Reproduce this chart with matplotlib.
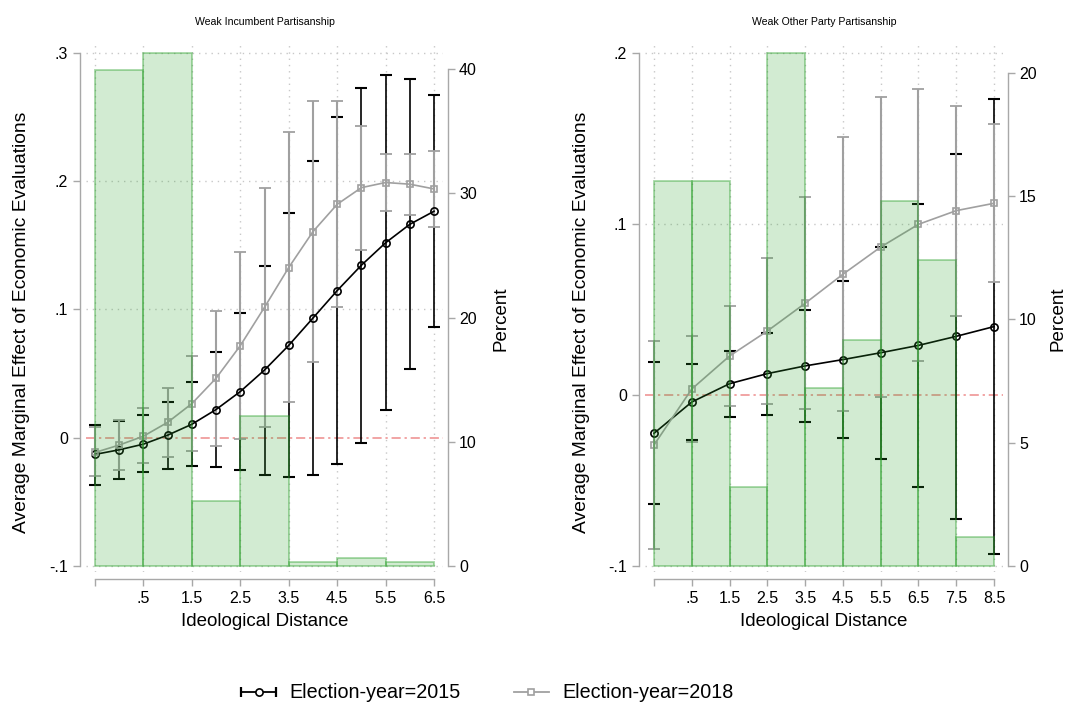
import matplotlib
matplotlib.use("Agg")
import matplotlib.pyplot as plt
from matplotlib.lines import Line2D
from matplotlib.legend_handler import HandlerBase

plt.rcParams['font.family'] = ['Liberation Sans', 'DejaVu Sans']

# ---------------- data ----------------
left_title = "Weak Incumbent Partisanship"
right_title = "Weak Other Party Partisanship"
x_label = "Ideological Distance"
y_label = "Average Marginal Effect of Economic Evaluations"
y2_label = "Percent"
series_names = ["Election-year=2015", "Election-year=2018"]

left_x = [-0.5, 0.0, 0.5, 1.0, 1.5, 2.0, 2.5, 3.0, 3.5, 4.0, 4.5, 5.0, 5.5, 6.0, 6.5]
left_2015 = [-0.013, -0.0094, -0.005, 0.002, 0.0105, 0.022, 0.036, 0.0528, 0.072, 0.0933,
             0.1147, 0.1345, 0.152, 0.1664, 0.1766]
left_2015_lo = [-0.0367, -0.032, -0.027, -0.024, -0.0224, -0.0229, -0.0252, -0.0287, -0.0307,
                -0.029, -0.0206, -0.0039, 0.0216, 0.0534, 0.0862]
left_2015_hi = [0.0099, 0.013, 0.018, 0.0279, 0.0437, 0.0667, 0.097, 0.1338, 0.175, 0.2154,
                0.25, 0.273, 0.283, 0.2794, 0.267]
left_2018 = [-0.0115, -0.0057, 0.0012, 0.012, 0.0266, 0.0464, 0.0718, 0.1017, 0.1327, 0.1607,
             0.182, 0.195, 0.199, 0.1977, 0.194]
left_2018_lo = [-0.030, -0.025, -0.0195, -0.0154, -0.0107, -0.0063, -0.001, 0.0086, 0.0276,
                0.0588, 0.1018, 0.146, 0.1766, 0.174, 0.1643]
left_2018_hi = [0.008, 0.0136, 0.0229, 0.039, 0.064, 0.0992, 0.1445, 0.1945, 0.238, 0.2625,
                0.2625, 0.243, 0.2213, 0.2213, 0.2237]
left_bin_edges = [-0.5, 0.5, 1.5, 2.5, 3.5, 4.5, 5.5, 6.5]
left_pct = [39.9, 41.3, 5.2, 12.1, 0.3, 0.67, 0.3]
left_xticks = [-0.5, 0.5, 1.5, 2.5, 3.5, 4.5, 5.5, 6.5]
left_xticklabels = ["", ".5", "1.5", "2.5", "3.5", "4.5", "5.5", "6.5"]
left_yticks = [-0.1, 0.0, 0.1, 0.2, 0.3]
left_yticklabels = ["-.1", "0", ".1", ".2", ".3"]
left_y2ticks = [0, 10, 20, 30, 40]

right_x = [-0.5, 0.5, 1.5, 2.5, 3.5, 4.5, 5.5, 6.5, 7.5, 8.5]
right_2015 = [-0.0224, -0.0041, 0.0066, 0.0125, 0.017, 0.0207, 0.0247, 0.029, 0.0343, 0.040]
right_2015_lo = [-0.0639, -0.0265, -0.013, -0.0115, -0.016, -0.025, -0.0374, -0.0536, -0.0723, -0.093]
right_2015_hi = [0.0191, 0.0183, 0.0259, 0.0365, 0.0497, 0.0665, 0.0868, 0.1117, 0.1409, 0.1729]
right_2018 = [-0.0292, 0.0035, 0.0228, 0.0374, 0.0536, 0.0706, 0.0865, 0.0998, 0.1078, 0.1121]
right_2018_lo = [-0.0902, -0.0273, -0.0066, -0.0051, -0.0084, -0.0094, -0.001, 0.0201, 0.0464, 0.0659]
right_2018_hi = [0.0318, 0.0347, 0.0522, 0.0799, 0.1158, 0.1507, 0.1741, 0.1788, 0.1692, 0.1583]
right_bin_edges = [-0.5, 0.5, 1.5, 2.5, 3.5, 4.5, 5.5, 6.5, 7.5, 8.5]
right_pct = [15.6, 15.6, 3.19, 20.8, 7.2, 9.18, 14.78, 12.4, 1.18]
right_xticks = [-0.5, 0.5, 1.5, 2.5, 3.5, 4.5, 5.5, 6.5, 7.5, 8.5]
right_xticklabels = ["", ".5", "1.5", "2.5", "3.5", "4.5", "5.5", "6.5", "7.5", "8.5"]
right_yticks = [-0.1, 0.0, 0.1, 0.2]
right_yticklabels = ["-.1", "0", ".1", ".2"]
right_y2ticks = [0, 5, 10, 15, 20]

# ---------------- style ----------------
W, H = 1066, 709
C15 = "black"
C18 = "#a0a0a0"
AXC = "#a8a8a8"
GRID = "#c8c8c8"
BAR_FACE = (0.17, 0.63, 0.17, 0.21)
BAR_EDGE = (0.17, 0.63, 0.17, 0.42)
REF = "#ee8c8c"
TICK_FS = 11.5
LAB_FS = 13.5

fig = plt.figure(figsize=(W / 100, H / 100), dpi=100)


def px_axes(x0, x1, y0, y1):
    return fig.add_axes([x0 / W, 1 - y1 / H, (x1 - x0) / W, (y1 - y0) / H])


def panel(x0, x1, xs, s15, lo15, hi15, s18, lo18, hi18, edges, pct,
          xticks, xticklabels, yticks, yticklabels, y2ticks, title, cx):
    ax = px_axes(x0, x1, 42, 572)
    xr = xticks[-1] - xticks[0]
    ax.set_xlim(xticks[0] - 0.0265 * xr, xticks[-1] + 0.0265 * xr)
    yr = yticks[-1] - yticks[0]
    ylo, yhi = yticks[0] - 0.0117 * yr, yticks[-1] + 0.0214 * yr
    ax.set_ylim(ylo, yhi)

    # grid
    for yt in yticks:
        if yt != 0:
            ax.axhline(yt, color=GRID, lw=1.0, ls=(0, (1, 3.5)), zorder=0)
    for xt in xticks:
        ax.axvline(xt, color=GRID, lw=1.0, ls=(0, (1, 3.5)), zorder=0)
    ax.axhline(0, color=REF, lw=1.1, ls=(0, (6, 2.5, 1.5, 2.5)), zorder=1)

    # CIs
    ax.errorbar(xs, s15, yerr=[[a - b for a, b in zip(s15, lo15)], [b - a for a, b in zip(s15, hi15)]],
                fmt="none", ecolor=C15, elinewidth=1.2, capsize=4.2, capthick=1.5, zorder=2)
    ax.errorbar(xs, s18, yerr=[[a - b for a, b in zip(s18, lo18)], [b - a for a, b in zip(s18, hi18)]],
                fmt="none", ecolor=C18, elinewidth=1.5, capsize=4.2, capthick=1.3, zorder=3)
    ax.plot(xs, s15, color=C15, lw=1.2, marker="o", ms=5.2, mfc="none", mec=C15, mew=1.2, zorder=4)
    ax.plot(xs, s18, color=C18, lw=1.2, marker="s", ms=4.6, mfc="none", mec=C18, mew=1.2, zorder=5)

    ax.set_xticks(xticks)
    ax.set_xticklabels(xticklabels)
    ax.set_yticks(yticks)
    ax.set_yticklabels(yticklabels)
    for s in ["top", "right"]:
        ax.spines[s].set_visible(False)
    ax.spines["left"].set_position(("outward", 4.3))
    ax.spines["left"].set_bounds(yticks[0], yticks[-1])
    ax.spines["bottom"].set_position(("outward", 5))
    ax.spines["bottom"].set_bounds(xticks[0], xticks[-1])
    for s in ["left", "bottom"]:
        ax.spines[s].set_color(AXC)
        ax.spines[s].set_linewidth(1.0)
    ax.tick_params(axis="both", direction="out", length=5, width=1.0, color=AXC,
                   labelsize=TICK_FS, pad=3.5)
    ax.patch.set_alpha(0)

    # histogram on secondary axis
    ax2 = ax.twinx()
    pmax = max(pct)
    scale = pmax / (yticks[-1] - yticks[0])
    ax2.set_ylim((ylo - yticks[0]) * scale, (yhi - yticks[0]) * scale)
    widths = [b - a for a, b in zip(edges[:-1], edges[1:])]
    ax2.bar(edges[:-1], pct, width=widths, align="edge", color=BAR_FACE,
            edgecolor=BAR_EDGE, linewidth=1.3, zorder=6)
    ax2.set_yticks(y2ticks)
    for s in ["top", "left", "bottom"]:
        ax2.spines[s].set_visible(False)
    ax2.spines["right"].set_position(("outward", 3.6))
    ax2.spines["right"].set_bounds(y2ticks[0], y2ticks[-1])
    ax2.spines["right"].set_color(AXC)
    ax2.spines["right"].set_linewidth(1.0)
    ax2.tick_params(axis="y", direction="out", length=5, width=1.0, color=AXC,
                    labelsize=TICK_FS, pad=3)

    fig.text(cx / W, 1 - 22 / H, title, ha="center", va="center", fontsize=7.6)
    fig.text(cx / W, 1 - 622 / H, x_label, ha="center", va="center", fontsize=LAB_FS)
    return ax, ax2


panel(86, 443, left_x, left_2015, left_2015_lo, left_2015_hi, left_2018, left_2018_lo, left_2018_hi,
      left_bin_edges, left_pct, left_xticks, left_xticklabels, left_yticks, left_yticklabels,
      left_y2ticks, left_title, 264.5)
panel(645, 1003, right_x, right_2015, right_2015_lo, right_2015_hi, right_2018, right_2018_lo,
      right_2018_hi, right_bin_edges, right_pct, right_xticks, right_xticklabels, right_yticks,
      right_yticklabels, right_y2ticks, right_title, 824)

fig.text(22 / W, 1 - 322 / H, y_label, rotation=90, ha="center", va="center", fontsize=13.9)
fig.text(582 / W, 1 - 322 / H, y_label, rotation=90, ha="center", va="center", fontsize=13.9)
fig.text(501 / W, 1 - 319 / H, y2_label, rotation=90, ha="center", va="center", fontsize=LAB_FS)
fig.text(1058 / W, 1 - 319 / H, y2_label, rotation=90, ha="center", va="center", fontsize=LAB_FS)


# ---------------- legend ----------------
class CapHandler(HandlerBase):
    def __init__(self, color, marker, ms, caps):
        super().__init__()
        self.color, self.marker, self.ms, self.caps = color, marker, ms, caps

    def create_artists(self, legend, orig_handle, xdescent, ydescent, width, height, fontsize, trans):
        y = height / 2 - ydescent
        x0, x1 = -xdescent, width - xdescent
        arts = [Line2D([x0, x1], [y, y], color=self.color, lw=1.3)]
        if self.caps:
            arts.append(Line2D([x0, x1], [y, y], ls="none", marker="|", ms=7,
                               mew=1.6, color=self.color))
        arts.append(Line2D([(x0 + x1) / 2], [y], ls="none", marker=self.marker, ms=self.ms,
                           mfc="white", mec=self.color, mew=1.2))
        for a in arts:
            a.set_transform(trans)
        return arts


h15 = Line2D([], [], color=C15)
h18 = Line2D([], [], color=C18)
fig.legend([h15, h18], series_names, loc="center", bbox_to_anchor=(487 / W, 1 - 693 / H),
           ncol=2, frameon=False, fontsize=14.2, handlelength=1.8, handletextpad=0.65,
           columnspacing=2.7,
           handler_map={h15: CapHandler(C15, "o", 5.2, True), h18: CapHandler(C18, "s", 4.6, False)})

fig.savefig("out.png", dpi=100)
